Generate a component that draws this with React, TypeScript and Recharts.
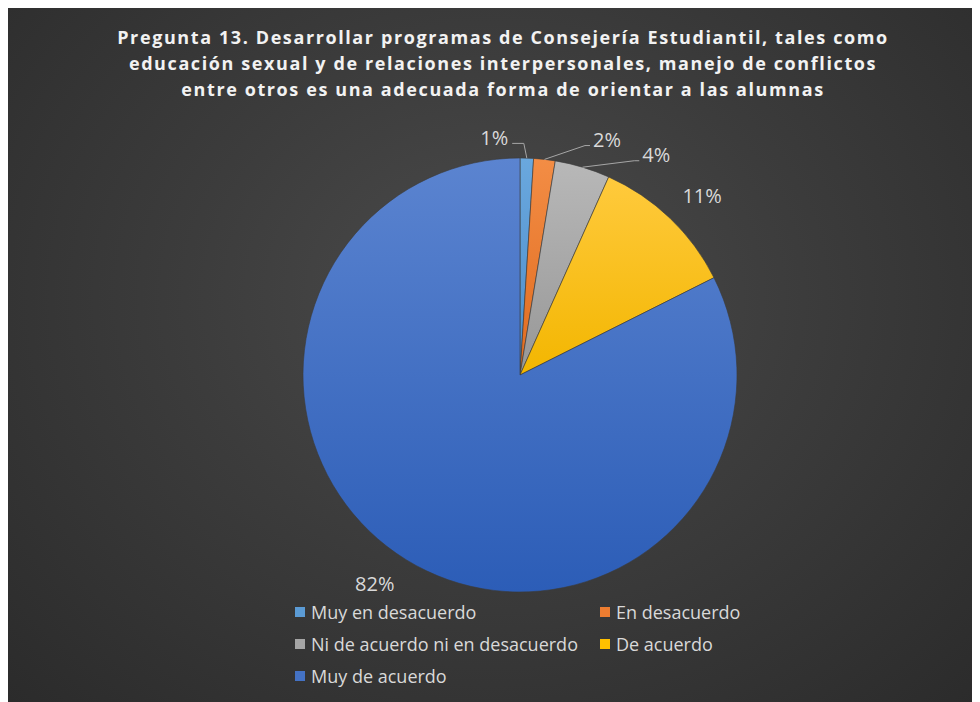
import React from 'react';
import { PieChart, Pie, Cell } from 'recharts';

// data
const categories = [
  'Muy en desacuerdo',
  'En desacuerdo',
  'Ni de acuerdo ni en desacuerdo',
  'De acuerdo',
  'Muy de acuerdo',
];
const shares = [1.0, 1.6, 4.1, 10.9, 82.4];

const titleLines = [
  'Pregunta 13. Desarrollar programas de Consejería Estudiantil, tales como',
  'educación sexual y de relaciones interpersonales, manejo de conflictos',
  'entre otros es una adecuada forma de orientar a las alumnas',
];

// styling
const COLORS = ['#5B9BD5', '#ED7D31', '#A5A5A5', '#FFC000', '#4472C4'];
const GRAD = [
  ['#6aa8de', '#4b8cca'],
  ['#f38d45', '#e06b1f'],
  ['#b8b8b8', '#979797'],
  ['#ffca3d', '#f3b600'],
  ['#5b84d0', '#2c5db7'],
];
// label placement tweaks (degrees clockwise, px outside the rim)
const labelShift = [-8, 13.8, 15, 1.6, 3.2];
const labelGap = [22, 34, 42, 39, 37];

const W = 972;
const H = 697;
const RAD = Math.PI / 180;

const data = categories.map((name, i) => ({ name, value: shares[i] }));

const renderLabel = (props: any) => {
  const { cx, cy, outerRadius, midAngle, percent, index } = props;
  const theta = 90 - midAngle + labelShift[index];
  const r = outerRadius + labelGap[index];
  const x = cx + r * Math.sin(theta * RAD);
  const y = cy - r * Math.cos(theta * RAD);
  const txt = `${Math.round(percent * 100)}%`;

  let line = null;
  if (percent < 0.06) {
    const m = 90 - midAngle;
    const sx = cx + outerRadius * Math.sin(m * RAD);
    const sy = cy - outerRadius * Math.cos(m * RAD);
    const left = x < sx;
    const ex = left ? x + 18 : x - 17;
    const ey = y + 6;
    const bx = left ? sx - 3 : ex - 5;
    line = (
      <polyline
        points={`${sx},${sy} ${bx},${ey} ${ex},${ey}`}
        fill="none"
        stroke="#a6a6a6"
        strokeWidth={1}
      />
    );
  }

  return (
    <g key={`lbl-${index}`}>
      {line}
      <text
        x={x}
        y={y}
        fill="#d9d9d9"
        fontSize={20}
        fontFamily="'Open Sans', sans-serif"
        textAnchor="middle"
        dominantBaseline="central"
      >
        {txt}
      </text>
    </g>
  );
};

export default function App(): React.JSX.Element {
  return (
    <div
      style={{
        position: 'relative',
        width: W,
        height: H,
        marginTop: -3,
        background:
          'radial-gradient(ellipse at 50% 42%, #4b4b4b 0%, #3c3c3c 45%, #2b2b2b 100%)',
        fontFamily: "'Open Sans', sans-serif",
      }}
    >
      {/* Title */}
      <div
        style={{
          position: 'absolute',
          top: 19,
          left: 9,
          width: W,
          textAlign: 'center',
          color: '#f2f2f2',
          fontWeight: 700,
          fontSize: 18,
          letterSpacing: 1.6,
          lineHeight: '26px',
        }}
      >
        {titleLines.map((t, i) => (
          <div key={i}>{t}</div>
        ))}
      </div>

      <PieChart width={W} height={H} style={{ position: 'absolute', top: 0, left: 0 }}>
        <defs>
          {GRAD.map((g, i) => (
            <linearGradient key={i} id={`g${i}`} x1="0" y1="0" x2="0" y2="1">
              <stop offset="0%" stopColor={g[0]} />
              <stop offset="100%" stopColor={g[1]} />
            </linearGradient>
          ))}
        </defs>
        <Pie
          data={data}
          dataKey="value"
          nameKey="name"
          cx={507}
          cy={365}
          outerRadius={217}
          startAngle={90}
          endAngle={-270}
          stroke="#3a3a3a"
          strokeWidth={0.6}
          label={renderLabel}
          labelLine={false}
          isAnimationActive={false}
        >
          {data.map((_, i) => (
            <Cell key={`cell-${i}`} fill={`url(#g${i})`} />
          ))}
        </Pie>
      </PieChart>

      {/* Legend */}
      {categories.map((name, i) => {
        const col = i % 2;
        const row = Math.floor(i / 2);
        return (
          <div
            key={name}
            style={{
              position: 'absolute',
              left: col === 0 ? 287 : 592,
              top: 607 + row * 32 - 13,
              height: 26,
              display: 'flex',
              alignItems: 'center',
              color: '#d9d9d9',
              fontSize: 18,
              whiteSpace: 'nowrap',
            }}
          >
            <span
              style={{
                display: 'inline-block',
                width: 10,
                height: 10,
                background: COLORS[i],
                marginRight: 6,
              }}
            />
            {name}
          </div>
        );
      })}
    </div>
  );
}
